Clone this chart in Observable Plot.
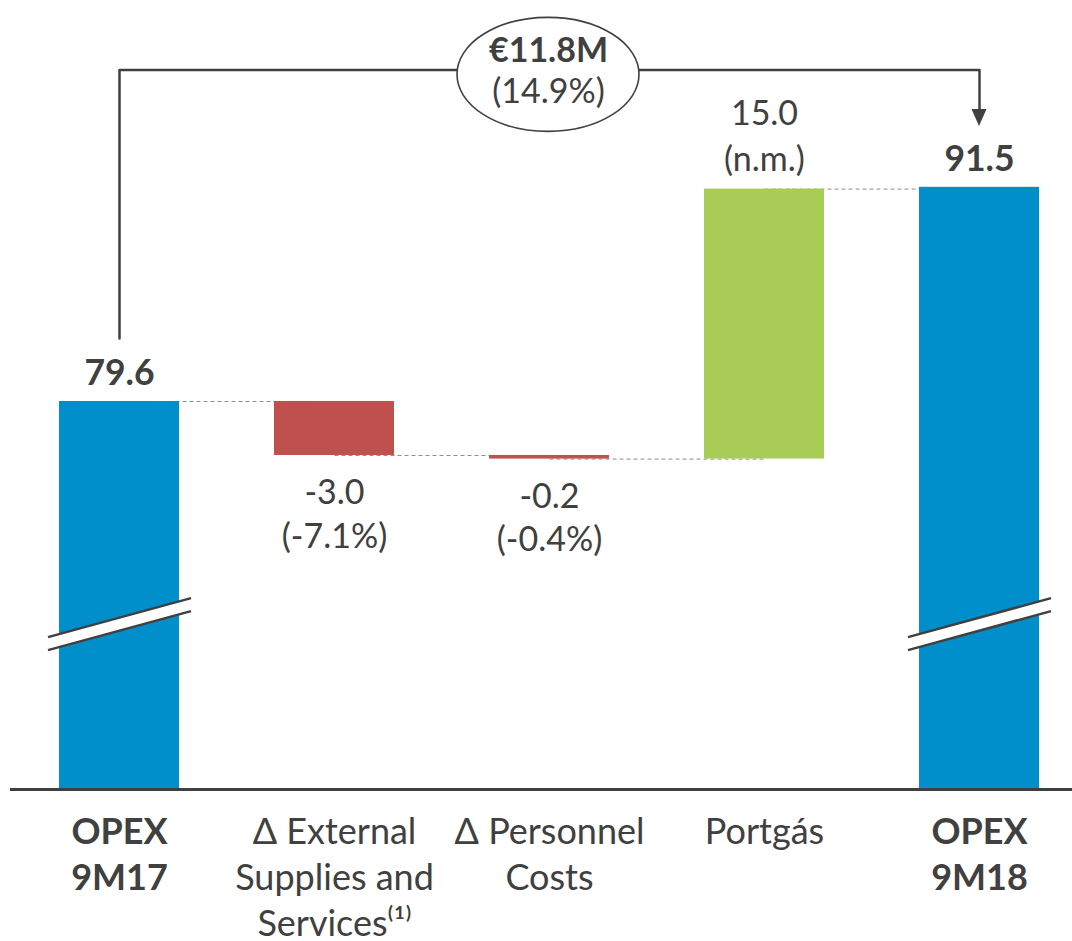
<!DOCTYPE html>
<html>
<head>
<meta charset="utf-8">
<script src="https://cdn.jsdelivr.net/npm/d3@7"></script>
<script src="https://cdn.jsdelivr.net/npm/@observablehq/plot@0.6"></script>
<style>
  html, body { margin: 0; padding: 0; background: #ffffff; }
  #chart svg { display: block; }
</style>
</head>
<body>
<div id="chart"></div>
<script>
// ---------- data ----------
const categories = ["OPEX 9M17", "Δ External Supplies and Services", "Δ Personnel Costs", "Portgás", "OPEX 9M18"];
const categoryLabels = ["OPEX\n9M17", "Δ External\nSupplies and\nServices⁽¹⁾", "Δ Personnel\nCosts", "Portgás", "OPEX\n9M18"];
const kinds = ["total", "delta", "delta", "delta", "total"];
const values = [79.6, -3.0, -0.2, 15.0, 91.5];
const pctLabels = ["", "(-7.1%)", "(-0.4%)", "(n.m.)", ""];
const changeLabel = "€11.8M";
const changePct = "(14.9%)";

// broken value axis: bars start at this value
const axisFloor = 58.04;
const axisTop = 101.88;

// annotation anchors (data units)
const bracketStart = 83.1;
const bracketLevel = 98.02;
const arrowTip = 94.88;
const ellipseLevel = 97.75;
const changeLabelLevel = 98.45;
const changePctLevel = 96.2;
const breakLevel = 67.2;

// ---------- waterfall table ----------
let running = 0;
const rows = categories.map((c, i) => {
  let start, end;
  if (kinds[i] === "total") { start = axisFloor; end = values[i]; running = values[i]; }
  else { start = running; end = running + values[i]; running = end; }
  return {cat: c, label: categoryLabels[i], kind: kinds[i], value: values[i], pct: pctLabels[i], start, end,
          level: kinds[i] === "total" ? values[i] : end};
});
const fill = d => d.kind === "total" ? "#008FCA" : (d.value < 0 ? "#C0504D" : "#A9CC57");
const connectors = rows.slice(0, -1).map((d, i) => ({a: d.cat, b: rows[i + 1].cat, y: d.level}));
const bracket = [
  {x: categories[0], y: bracketStart},
  {x: categories[0], y: bracketLevel},
  {x: categories[4], y: bracketLevel},
  {x: categories[4], y: arrowTip + 0.5}
];

const ink = "#404040";
const font = "Lato, 'Open Sans', sans-serif";

function decorations(index, scales) {
  const {x, y} = scales;
  const bw = typeof x.bandwidth === "function" ? x.bandwidth() : 0;
  const g = d3.create("svg:g");
  // axis-break marks on the two totals
  for (const c of [categories[0], categories[4]]) {
    const x0 = x(c) - 11, x1 = x(c) + bw + 12;
    const cy = y(breakLevel);
    const rise = (x1 - x0) / 2 * 0.2727;
    const gap = 13;
    const uL = [x0, cy + rise - gap / 2], uR = [x1, cy - rise - gap / 2];
    const lL = [x0, cy + rise + gap / 2], lR = [x1, cy - rise + gap / 2];
    g.append("path").attr("d", `M${uL}L${uR}L${lR}L${lL}Z`).attr("fill", "#fff");
    g.append("path").attr("d", `M${uL}L${uR}M${lL}L${lR}`).attr("stroke", ink).attr("stroke-width", 2.5).attr("fill", "none");
  }
  // ellipse around the change label
  g.append("ellipse")
    .attr("cx", x(categories[2]) + bw / 2 - 1).attr("cy", y(ellipseLevel))
    .attr("rx", 91).attr("ry", 57)
    .attr("fill", "#fff").attr("stroke", ink).attr("stroke-width", 1.6);
  // arrow head
  const ax = x(categories[4]) + bw / 2, ay = y(arrowTip);
  g.append("path").attr("d", `M${ax - 7.5},${ay - 17}L${ax + 7.5},${ay - 17}L${ax},${ay}Z`).attr("fill", ink);
  return g.node();
}

const chart = Plot.plot({
  width: 1072,
  height: 941,
  marginTop: 0,
  marginBottom: 152,
  marginLeft: 10,
  marginRight: 0,
  style: {background: "#ffffff", fontFamily: font, color: ink, overflow: "visible"},
  x: {domain: categories, paddingInner: 0.4438, paddingOuter: 0.1831, align: 0.595, axis: null},
  y: {domain: [axisFloor, axisTop], axis: null},
  marks: [
    Plot.link(connectors, {x1: "a", x2: "b", y1: "y", y2: "y", stroke: "#8c8c8c", strokeWidth: 1, strokeDasharray: "4,3"}),
    Plot.barY(rows, {x: "cat", y1: "start", y2: "end", fill}),
    Plot.ruleY([axisFloor], {stroke: ink, strokeWidth: 3}),
    Plot.line(bracket, {x: "x", y: "y", stroke: ink, strokeWidth: 2.5, curve: "linear"}),
    decorations,
    // change label in ellipse
    Plot.text([changeLabel], {x: [categories[2]], y: [changeLabelLevel], text: d => d, fontSize: 34, fontWeight: "bold", fill: ink, dx: -1, lineAnchor: "bottom"}),
    Plot.text([changePct], {x: [categories[2]], y: [changePctLevel], text: d => d, fontSize: 34, fill: ink, dx: -1, lineAnchor: "bottom"}),
    // total value labels
    Plot.text(rows.filter(d => d.kind === "total"), {x: "cat", y: "end", text: d => d.value.toFixed(1), lineAnchor: "bottom", dy: -16, fontSize: 35.5, fontWeight: "bold", fill: ink}),
    // delta labels: below for negatives, above for positives
    Plot.text(rows.filter(d => d.kind === "delta" && d.value < 0), {x: "cat", y: d => Math.min(d.start, d.end), text: d => `${d.value.toFixed(1)}\n${d.pct}`, lineAnchor: "top", dy: 18, lineHeight: 1.28, fontSize: 34, fill: ink}),
    Plot.text(rows.filter(d => d.kind === "delta" && d.value >= 0), {x: "cat", y: "end", text: d => `${d.value.toFixed(1)}\n${d.pct}`, lineAnchor: "bottom", dy: -18, lineHeight: 1.36, fontSize: 34, fill: ink}),
    // category labels
    Plot.text(rows.filter(d => d.kind === "total"), {x: "cat", y: axisFloor, text: "label", lineAnchor: "top", dy: 22, lineHeight: 1.28, fontSize: 36, fontWeight: "bold", fill: ink}),
    Plot.text(rows.filter(d => d.kind !== "total"), {x: "cat", y: axisFloor, text: "label", lineAnchor: "top", dy: 22, lineHeight: 1.28, fontSize: 36, fill: ink})
  ]
});
document.getElementById("chart").appendChild(chart);
</script>
</body>
</html>
